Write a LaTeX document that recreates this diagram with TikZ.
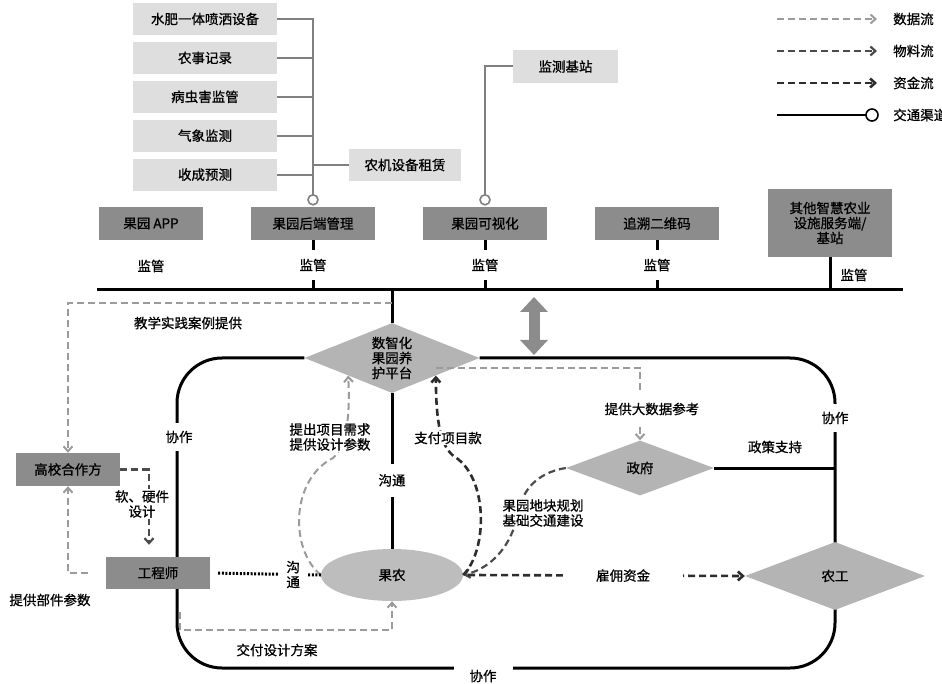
\documentclass[tikz,border=0pt]{standalone}
\usepackage{fontspec}
\setmainfont{Noto Sans CJK SC}[FakeBold=0.8]
\usepackage{tikz}
\usetikzlibrary{positioning,arrows.meta,shapes.geometric,backgrounds,calc}
\definecolor{GYlight}{RGB}{222,222,222}
\definecolor{GYdark}{RGB}{140,140,140}
\definecolor{GYdia}{RGB}{180,180,180}
\definecolor{GYell}{RGB}{189,189,189}
\definecolor{GYline}{RGB}{128,128,128}
\definecolor{FLdata}{RGB}{155,155,155}
\definecolor{FLmat}{RGB}{75,75,75}
\definecolor{FLmoney}{RGB}{45,45,45}

\begin{document}
\begin{tikzpicture}[
  x=1pt,y=-1pt,
  every node/.style={font=\fontsize{13.5pt}{15pt}\selectfont},
  listbox/.style={rectangle,fill=GYlight,minimum width=144pt,minimum height=32pt,inner sep=0pt},
  unitbox/.style={rectangle,fill=GYdark,minimum width=124pt,minimum height=33pt,inner sep=0pt,align=center},
  actor/.style={diamond,fill=GYdia,inner sep=0pt,aspect=2.5,align=center},
  tag/.style={inner sep=1pt,align=center},
  blank/.style={fill=white,inner sep=1pt,align=center},
  port/.style={circle,draw=#1,fill=white,line width=1.6pt,minimum size=10pt,inner sep=0pt},
  port/.default=black,
  feedline/.style={draw=GYline,line width=2pt},
  bus/.style={draw=black,line width=3pt},
  dataflow/.style={draw=FLdata,line width=2pt,dash pattern=on 7pt off 4pt,-{Straight Barb[length=5pt,width=9pt]}},
  matflow/.style={draw=FLmat,line width=2.2pt,dash pattern=on 7pt off 4pt,-{Straight Barb[length=5pt,width=9pt]}},
  moneyflow/.style={draw=FLmoney,line width=2.6pt,dash pattern=on 7pt off 4pt,-{Straight Barb[length=5pt,width=9pt]}},
  talkline/.style={draw=black,line width=3pt,dash pattern=on 2pt off 1.6pt},
  bigarrow/.style={draw=GYdark,line width=11pt,{Triangle[length=15pt,width=27pt]}-{Triangle[length=15pt,width=27pt]}},
]
\useasboundingbox (0,0) rectangle (942,684);

% 功能列表
\node[listbox] (water) at (205,19) {水肥一体喷洒设备};
\node[listbox,below=6.5pt of water] (record) {农事记录};
\node[listbox,below=6.5pt of record] (pest) {病虫害监管};
\node[listbox,below=6.5pt of pest] (weather) {气象监测};
\node[listbox,below=6.5pt of weather] (harvest) {收成预测};
\node[listbox,minimum width=112pt] (rent) at (405,165) {农机设备租赁};
\node[listbox,minimum width=105pt,minimum height=33pt] (station) at (565.5,66.5) {监测基站};

% 平台模块
\node[unitbox,minimum width=104pt] (app) at (151,223.5) {果园 APP};
\node[unitbox] (backend) at (313,223.5) {果园后端管理};
\node[unitbox] (vis) at (485,223.5) {果园可视化};
\node[unitbox] (trace) at (657,223.5) {追溯二维码};
\node[unitbox,minimum height=68pt] (other) at (830,223) {其他智慧农业\\设施服务端/\\基站};
\coordinate (busL) at (97,290);
\coordinate (busR) at (903,290);

% 参与主体
\node[actor,minimum width=175pt,minimum height=70pt] (platform) at (392,358) {数智化\\果园养\\护平台};
\node[actor,minimum width=148pt,minimum height=55pt] (gov) at (640,468) {政府};
\node[actor,minimum width=180pt,minimum height=68pt] (worker) at (835,576) {农工};
\node[ellipse,fill=GYell,inner sep=0pt,minimum width=142pt,minimum height=52pt] (farmer) at (392,575) {果农};
\node[unitbox,minimum width=104pt,minimum height=32pt] (engineer) at (158,573) {工程师};
\node[unitbox,minimum width=104pt] (uni) at (68,469.5) {高校合作方};

% 协作环线
\begin{scope}[on background layer]
\draw[bus,rounded corners=45pt] (platform.west) -- (177,358) -- (177,668) -- (835,668) -- (835,358) -- (platform.east);
\draw[bus] (gov.east) -- (gov.east -| worker.north);
\end{scope}
\node[blank,inner ysep=8pt] (coopL) at (179,437) {协作};
\node[blank,inner ysep=8pt] (coopR) at (835,418) {协作};
\node[blank,inner xsep=16pt,inner ysep=4pt] (coopB) at (483,676) {协作};
\node[tag] at (775,447) {政策支持};

% 交通渠道
\coordinate (bj) at ([yshift=7pt]backend.north);
\coordinate (vj) at ([yshift=7pt]vis.north);
\draw[feedline] (water.east) -| (bj);
\foreach \n in {record,pest,weather,harvest}
  \draw[feedline] (\n.east) -- (\n.east -| bj);
\draw[feedline] (rent.west) -- (rent.west -| bj);
\draw[feedline] (station.west) -| (vj);
\node[port=GYline] at (bj) {};
\node[port=GYline] at (vj) {};

% 监管
\draw[bus] (busL) -- (busR);
\draw[bus] (backend.south) -- node[blank,inner ysep=9pt]{监管} (backend.south |- busL);
\draw[bus] (vis.south) -- node[blank,inner ysep=9pt]{监管} (vis.south |- busL);
\draw[bus] (trace.south) -- node[blank,inner ysep=9pt]{监管} (trace.south |- busL);
\draw[bus] (other.south) -- (other.south |- busL);
\node[tag] at (151,266) {监管};
\node[tag] at (854,275) {监管};
\draw[bus] (platform.north |- busL) -- (platform.north);
\draw[bus] (platform.south) -- node[blank,pos=0.56,inner ysep=10pt]{沟通} (farmer.north);
\coordinate (upA) at (534,297);
\coordinate (upB) at (534,355);
\draw[bigarrow] (upA) -- (upB);

% 数据流
\coordinate (tap) at ($(platform.north |- busL)+(0,13)$);
\draw[dataflow] (tap) -| (uni.north);
\node[tag] at (188,323) {教学实践案例提供};
\draw[dataflow] ([xshift=-18pt]engineer.west) -| (uni.south);
\node[tag] at (50,600) {提供部件参数};
\draw[dataflow] ([xshift=22pt,yshift=-23pt]engineer.south) |- ([yshift=-29pt]farmer.south) -- (farmer.south);
\node[tag] at (277,650) {交付设计方案};
\draw[dataflow] ([yshift=8pt]platform.south east) -| (gov.north);
\node[blank,inner ysep=9pt] at (652,409) {提供大数据参考};
\draw[dataflow] (farmer.west) .. controls (290,550) and (290,480) .. (333,458) .. controls (348,445) and (350,410) .. (platform.south west);
\node[blank] at (330,437) {提出项目需求\\提供设计参数};

% 物料流 / 资金流
\draw[matflow] (uni.east) -| ([xshift=-9pt,yshift=12pt]engineer.north);
\node[blank] at (142,504) {软、硬件\\设计};
\draw[matflow] (gov.west) .. controls (535,473) and (522,492) .. (518,513) .. controls (512,545) and (492,568) .. (farmer.east);
\node[blank,align=left] at (543,513) {果园地块规划\\基础交通建设};
\draw[moneyflow] (farmer.east) .. controls (488,550) and (488,478) .. (455,457) .. controls (440,447) and (436,420) .. (platform.south east);
\node[blank] at (448,438) {支付项目款};
\draw[moneyflow] ([xshift=5pt]farmer.east) -- node[blank,pos=0.56,inner xsep=33pt]{雇佣资金} (worker.west);
\draw[talkline,shorten <=8pt] (engineer.east) -- node[blank,pos=0.75,inner xsep=8pt]{沟\\通} (farmer.west);

% 图例
\foreach \k/\y in {1/19,2/51,3/83,4/115} {
  \coordinate (lgA\k) at (777,\y);
  \coordinate (lgB\k) at (877,\y);
}
\coordinate (lgC4) at (872,115);
\draw[dataflow] (lgA1) -- (lgB1);
\draw[matflow] (lgA2) -- (lgB2);
\draw[moneyflow] (lgA3) -- (lgB3);
\draw[bus,line width=2pt] (lgA4) -- (lgC4);
\node[port=black,minimum size=12pt] at (lgC4) {};
\node[tag,anchor=west] at (892,19) {数据流};
\node[tag,anchor=west] at (892,51) {物料流};
\node[tag,anchor=west] at (892,83) {资金流};
\node[tag,anchor=west] at (892,115) {交通渠道};

\end{tikzpicture}
\end{document}
